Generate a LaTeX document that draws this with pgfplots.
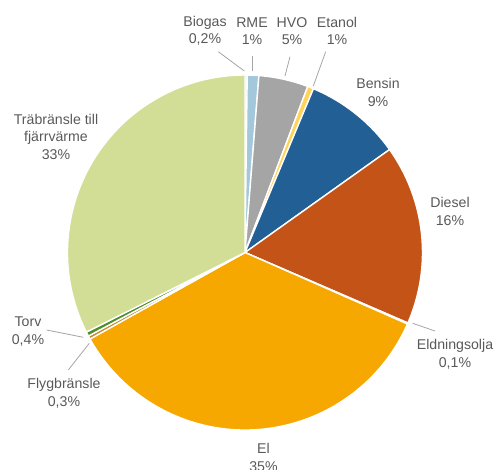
\documentclass[border=0pt]{standalone}
\usepackage{pgfplots}
\pgfplotsset{compat=1.18}
\usepackage{fontspec}
\setmainfont{Liberation Sans}

\definecolor{cBiogas}{HTML}{C9D9E6}
\definecolor{cRME}{HTML}{A3C7DB}
\definecolor{cHVO}{HTML}{A5A5A5}
\definecolor{cEtanol}{HTML}{FFD35A}
\definecolor{cBensin}{HTML}{225F95}
\definecolor{cDiesel}{HTML}{C45317}
\definecolor{cEldn}{HTML}{8FAADC}
\definecolor{cEl}{HTML}{F6A800}
\definecolor{cFlyg}{HTML}{C9892E}
\definecolor{cTorv}{HTML}{4C8F2C}
\definecolor{cTra}{HTML}{D2DE95}
\definecolor{lbl}{HTML}{595959}
\definecolor{lead}{HTML}{A6A6A6}

\begin{document}
\begin{tikzpicture}
\begin{axis}[
    x=1bp, y=1bp,
    xmin=0, xmax=496, ymin=0, ymax=470,
    hide axis, clip=false,
    anchor=origin, at={(0,0)},
]
% andelar i procent, medurs fran klockan 12
\xdef\astart{90}
\foreach \v/\c in {0.2/cBiogas, 1.05/cRME, 4.5/cHVO, 0.55/cEtanol,
                   8.85/cBensin, 16.35/cDiesel, 0.1/cEldn, 35.3/cEl,
                   0.3/cFlyg, 0.4/cTorv, 32.4/cTra} {
    \pgfmathsetmacro\aend{\astart - 3.6*\v}
    \edef\temp{\noexpand\fill[\c, draw=white, line width=1.4bp]
        (axis cs:245,217.5) -- ++(\astart:177.5bp)
        arc[start angle=\astart, end angle=\aend, radius=177.5bp] -- cycle;}
    \temp
    \xdef\astart{\aend}
}

% hanvisningslinjer
\addplot[lead, line width=0.8bp, no marks] coordinates {(218.3,418.3) (244.3,399)};
\addplot[lead, line width=0.8bp, no marks] coordinates {(252.7,414) (252.7,399)};
\addplot[lead, line width=0.8bp, no marks] coordinates {(290,413.3) (285,394)};
\addplot[lead, line width=0.8bp, no marks] coordinates {(325.7,418.3) (313.3,384)};
\addplot[lead, line width=0.8bp, no marks] coordinates {(412.7,146.7) (435,139)};
\addplot[lead, line width=0.8bp, no marks] coordinates {(46.7,140) (83.3,132.7)};
\addplot[lead, line width=0.8bp, no marks] coordinates {(68.3,100) (89.3,126.7)};

\tikzset{every node/.style={text=lbl, align=center, inner sep=0pt,
    font=\fontsize{14.2}{17.6}\selectfont}}
\node at (axis cs:205,439) {Biogas\\0,2\%};
\node at (axis cs:252,439) {RME\\1\%};
\node at (axis cs:292,439) {HVO\\5\%};
\node at (axis cs:337,439) {Etanol\\1\%};
\node at (axis cs:378,377.5) {Bensin\\9\%};
\node at (axis cs:450,258.5) {Diesel\\16\%};
\node at (axis cs:455,115.5) {Eldningsolja\\0,1\%};
\node at (axis cs:263.5,12.5) {El\\35\%};
\node at (axis cs:28,138.7) {Torv\\0,4\%};
\node at (axis cs:64,76.7) {Flygbränsle\\0,3\%};
\node at (axis cs:56,333.5) {Träbränsle till\\fjärrvärme\\33\%};
\end{axis}
\pgfresetboundingbox
\path[use as bounding box] (0,0) rectangle (496bp,470bp);
\end{tikzpicture}
\end{document}
